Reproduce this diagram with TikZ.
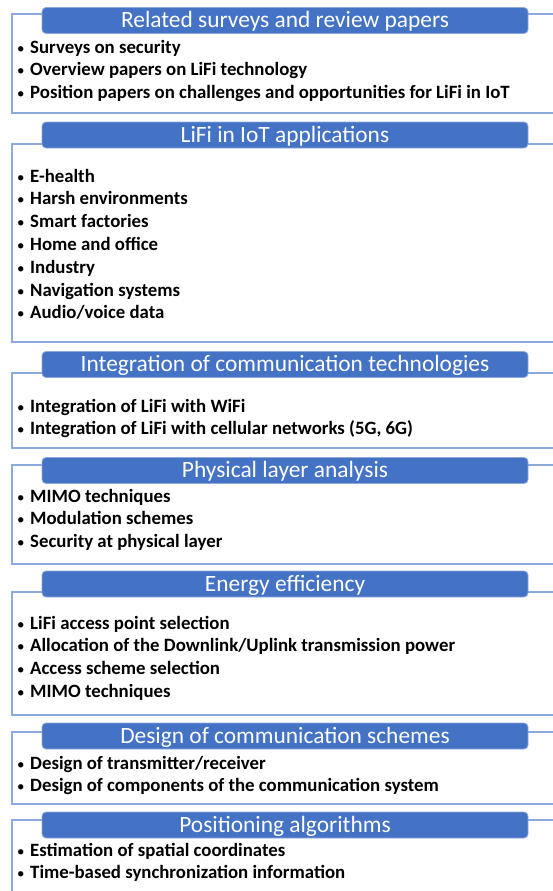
\documentclass[tikz,border=0pt]{standalone}
\usepackage{fontspec}
\setmainfont{Carlito}
\definecolor{hdrblue}{HTML}{4472C4}
\definecolor{hdredge}{HTML}{8FAADC}
\definecolor{frameblue}{HTML}{8EA9DB}
\tikzset{
  hdrbox/.style={fill=hdrblue, draw=hdredge, line width=0.8pt, rounded corners=4pt,
    minimum width=486pt, minimum height=26pt, inner sep=0pt, text=white,
    font=\fontsize{23.4}{25}\selectfont, text height=17pt, text depth=3pt},
  framebox/.style={draw=frameblue, line width=1.3pt},
  itemtext/.style={anchor=base west, inner sep=0pt, font=\bfseries\fontsize{18.8}{21}\selectfont},
  bullettext/.style={anchor=base west, inner sep=0pt, font=\fontsize{15}{17}\selectfont}
}
% one section: id, header top, header bottom, frame top, frame bottom, title
\newcommand\lifipanel[6]{%
  \draw[framebox] (12,#4) rectangle (575,#5);
  \node[hdrbox] (h#1) at (285,{(#2+#3)/2}) {#6};
}
% bullet list: id, first baseline, entries
\newcommand\lifiitems[3]{%
  \foreach \t [count=\k] in {#3} {
    \node[bullettext] (b#1-\k) at (17,{#2+22.8*(\k-1)}) {•};
    \node[itemtext] (i#1-\k) at (30,{#2+22.8*(\k-1)}) {\t};
  }%
}
\begin{document}
\begin{tikzpicture}[x=1pt,y=-1pt]
\useasboundingbox (0,0) rectangle (553,891);
\clip (0,0) rectangle (553,891);

\lifipanel{1}{7}{34}{14}{113}{Related surveys and review papers}
\lifiitems{1}{53}{Surveys on security, Overview papers on LiFi technology,
  Position papers on challenges and opportunities for LiFi in IoT}

\lifipanel{2}{122}{148}{144}{342}{LiFi in IoT applications}
\lifiitems{2}{182}{E-health, Harsh environments, Smart factories, Home and office,
  Industry, Navigation systems, Audio/voice data}

\lifipanel{3}{352}{377}{373}{448}{Integration of communication technologies}
\lifiitems{3}{412}{Integration of LiFi with WiFi,
  {Integration of LiFi with cellular networks (5G, 6G)}}

\lifipanel{4}{457}{484}{465}{564}{Physical layer analysis}
\lifiitems{4}{502}{MIMO techniques, Modulation schemes, Security at physical layer}

\lifipanel{5}{571}{597}{592}{715}{Energy efficiency}
\lifiitems{5}{629}{LiFi access point selection,
  Allocation of the Downlink/Uplink transmission power,
  Access scheme selection, MIMO techniques}

\lifipanel{6}{723}{749}{732}{804}{Design of communication schemes}
\lifiitems{6}{769}{Design of transmitter/receiver,
  Design of components of the communication system}

\lifipanel{7}{812}{838}{820}{920}{Positioning algorithms}
\lifiitems{7}{856}{Estimation of spatial coordinates,
  Time-based synchronization information}
\end{tikzpicture}
\end{document}
